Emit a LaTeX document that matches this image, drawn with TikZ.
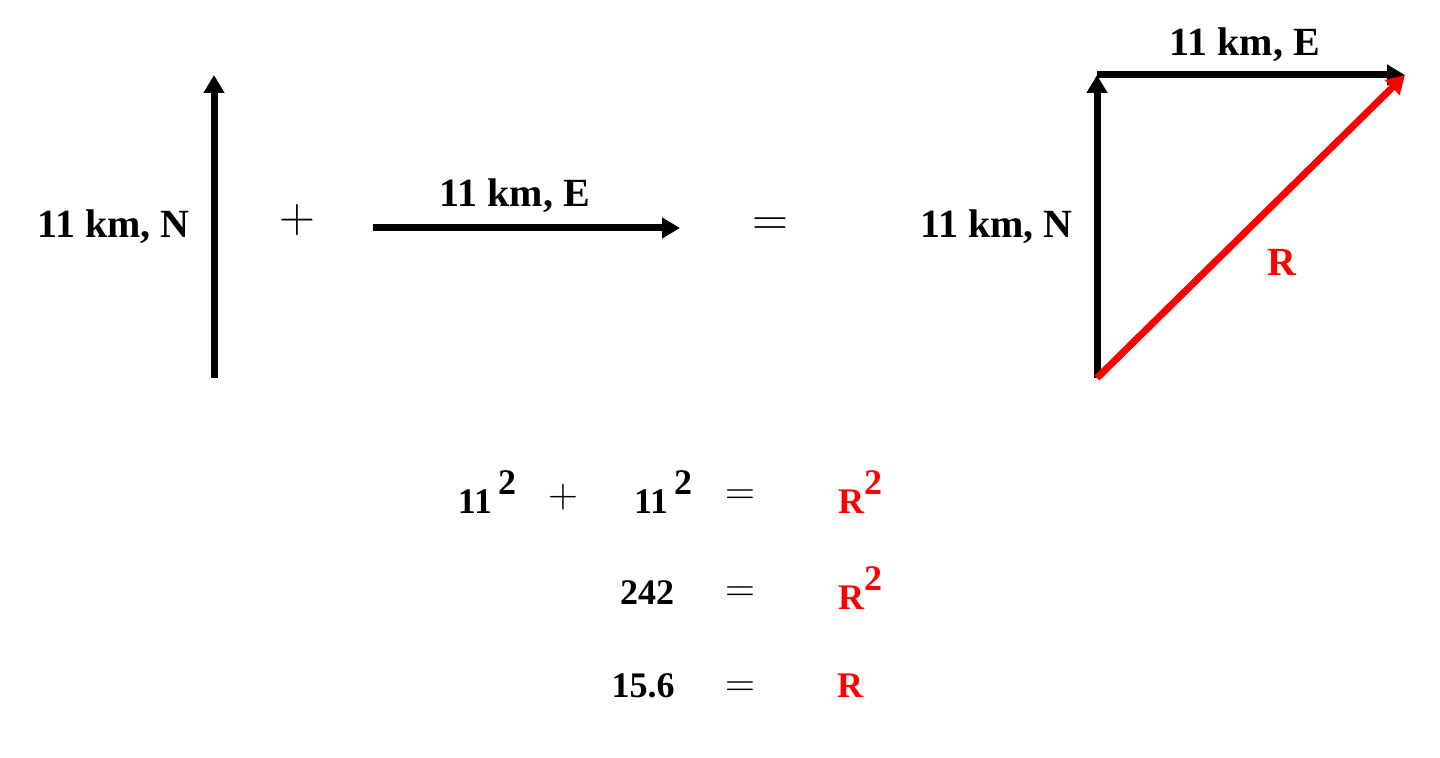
\documentclass[tikz,border=0pt]{standalone}
\usepackage{fontspec}
\setmainfont{Liberation Serif}
\usetikzlibrary{arrows.meta}
\definecolor{vred}{RGB}{255,0,0}
\begin{document}
\begin{tikzpicture}[x=0.5pt,y=-0.5pt,
  vec/.style={line width=3.5pt,-{Triangle[length=9pt,width=10pt]}},
  lbl/.style={font=\bfseries\fontsize{20}{22}\selectfont,inner sep=0pt},
  eq/.style={font=\bfseries\fontsize{18}{20}\selectfont,inner sep=0pt},
  sym/.style={font=\fontsize{30}{32}\selectfont,inner sep=0pt},
  ssym/.style={font=\fontsize{22}{24}\selectfont,inner sep=0pt}]
\useasboundingbox (0,0) rectangle (1440,758);
% left
\coordinate (a0) at (214,378); \coordinate (a1) at (214,75);
\draw[vec] (a0) -- (a1);
\node[lbl,anchor=east] (ln) at (190,227) {11 km, N};
\node[sym] (plus) at (297,220) {$\mathbf{+}$};
\coordinate (b0) at (373,228); \coordinate (b1) at (680,228);
\draw[vec] (b0) -- (b1);
\node[lbl] (le) at (515,196) {11 km, E};
\node[sym] (eqs) at (770,227) {$\mathbf{=}$};
% right
\coordinate (o) at (1097,378); \coordinate (n) at (1097,75); \coordinate (ne) at (1405,75);
\draw[vec] (o) -- (n);
\draw[vec] (n) -- (ne);
\draw[vec,vred] (o) -- (ne);
\node[lbl] (re) at (1245,45) {11 km, E};
\node[lbl,anchor=east] (rn) at (1073,227) {11 km, N};
\node[lbl,vred] (rr) at (1282,262) {R};
% equations
\node[eq] (e1) at (487,492) {11\,\raisebox{1.1ex}{2}};
\node[ssym] (e2) at (563,497) {$\mathbf{+}$};
\node[eq] (e3) at (663,492) {11\,\raisebox{1.1ex}{2}};
\node[ssym] (e4) at (740,497) {$\mathbf{=}$};
\node[eq,vred] (e5) at (860,492) {R\raisebox{1.1ex}{2}};
\node[eq] (f1) at (647,593) {242};
\node[ssym] (f2) at (740,594) {$\mathbf{=}$};
\node[eq,vred] (f3) at (860,588) {R\raisebox{1.1ex}{2}};
\node[eq] (g1) at (643,686) {15.6};
\node[ssym] (g2) at (740,689) {$\mathbf{=}$};
\node[eq,vred] (g3) at (850,686) {R};
\end{tikzpicture}
\end{document}
